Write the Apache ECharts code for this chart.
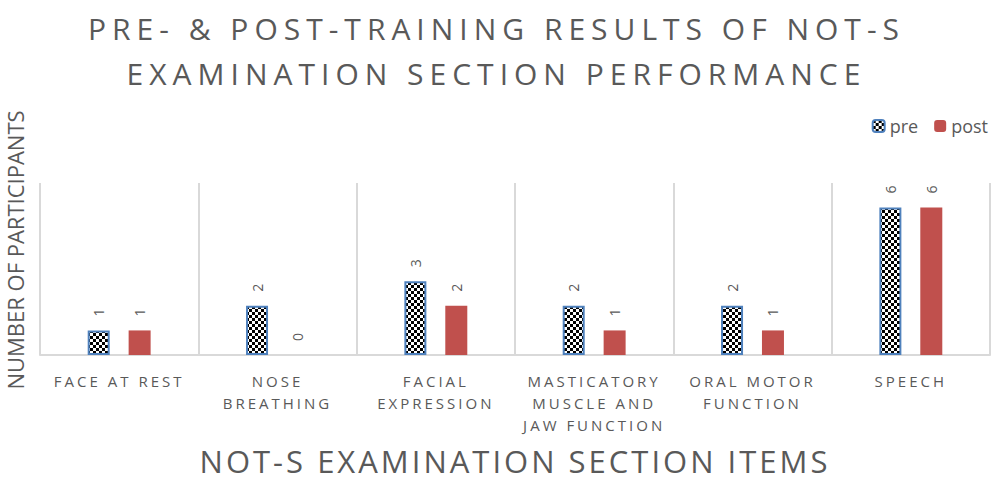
<!DOCTYPE html>
<html>
<head>
<meta charset="utf-8">
<script src="https://cdn.jsdelivr.net/npm/echarts@6/dist/echarts.min.js"></script>
<style>
html,body{margin:0;padding:0;background:#fff;}
#chart{width:993px;height:481px;}
</style>
</head>
<body>
<div id="chart"></div>
<script>
var categories = ['FACE AT REST', 'NOSE\nBREATHING', 'FACIAL\nEXPRESSION', 'MASTICATORY\nMUSCLE AND\nJAW FUNCTION', 'ORAL MOTOR\nFUNCTION', 'SPEECH'];
var preValues = [1, 2, 3, 2, 2, 6];
var postValues = [1, 0, 2, 1, 1, 6];

// checkerboard fill for the "pre" bars
var cv = document.createElement('canvas');
cv.width = 6; cv.height = 6;
var ctx = cv.getContext('2d');
ctx.fillStyle = '#fff';
ctx.fillRect(0, 0, 6, 6);
ctx.fillStyle = '#000';
ctx.fillRect(0, 0, 3, 3);
ctx.fillRect(3, 3, 3, 3);

var gray = '#595959';
var font = "'Open Sans', 'Noto Sans', sans-serif";

// letter spacing per font size (svg text), the original uses spaced caps
var spacing = {'30px': '6px', '31px': '3px', '15px': '3px'};

var myChart = echarts.init(document.getElementById('chart'), null, {renderer: 'svg'});
myChart.setOption({
  animation: false,
  textStyle: {fontFamily: font},
  title: {
    text: 'PRE- & POST-TRAINING RESULTS OF NOT-S\nEXAMINATION SECTION PERFORMANCE',
    left: 'center',
    top: 1,
    textStyle: {fontSize: 30, fontWeight: 'normal', color: gray, lineHeight: 45, fontFamily: font}
  },
  legend: {
    right: 0,
    top: 112,
    itemWidth: 12,
    itemHeight: 12,
    itemGap: 16,
    textStyle: {fontSize: 18, color: gray},
    data: ['pre', 'post']
  },
  grid: {left: 40, right: 3, top: 183, bottom: 126, containLabel: false, outerBoundsMode: 'none'},
  xAxis: {
    type: 'category',
    data: categories,
    name: 'NOT-S EXAMINATION SECTION ITEMS',
    nameLocation: 'middle',
    nameGap: 92,
    nameTextStyle: {fontSize: 31, color: gray, lineHeight: 28},
    axisLine: {lineStyle: {color: '#d9d9d9', width: 2}},
    axisTick: {show: false},
    splitLine: {show: true, lineStyle: {color: '#d9d9d9', width: 2}},
    axisLabel: {color: gray, fontSize: 15, lineHeight: 22, margin: 15, interval: 0}
  },
  yAxis: {
    type: 'value',
    min: 0,
    max: 7,
    name: 'NUMBER OF PARTICIPANTS',
    nameLocation: 'middle',
    nameGap: 14,
    nameTextStyle: {fontSize: 22, color: gray, lineHeight: 22, padding: [0, 0, 0, 38]},
    axisLine: {show: false},
    axisTick: {show: false},
    axisLabel: {show: false},
    splitLine: {show: false}
  },
  series: [{
    name: 'pre',
    type: 'bar',
    data: preValues,
    barWidth: 22,
    barGap: '86%',
    itemStyle: {color: {image: cv, repeat: 'repeat'}, borderColor: '#4f81bd', borderWidth: 2},
    label: {show: true, position: 'top', rotate: 90, distance: 14, color: gray, fontSize: 14, align: 'left', verticalAlign: 'middle'}
  }, {
    name: 'post',
    type: 'bar',
    data: postValues,
    barWidth: 22,
    itemStyle: {color: '#c0504d'},
    label: {show: true, position: 'top', rotate: 90, distance: 14, color: gray, fontSize: 14, align: 'left', verticalAlign: 'middle'}
  }]
});

function spaceText() {
  var texts = document.querySelectorAll('#chart text');
  for (var i = 0; i < texts.length; i++) {
    var fs = getComputedStyle(texts[i]).fontSize;
    if (spacing[fs]) texts[i].style.letterSpacing = spacing[fs];
  }
}
spaceText();
myChart.on('finished', spaceText);
</script>
</body>
</html>
